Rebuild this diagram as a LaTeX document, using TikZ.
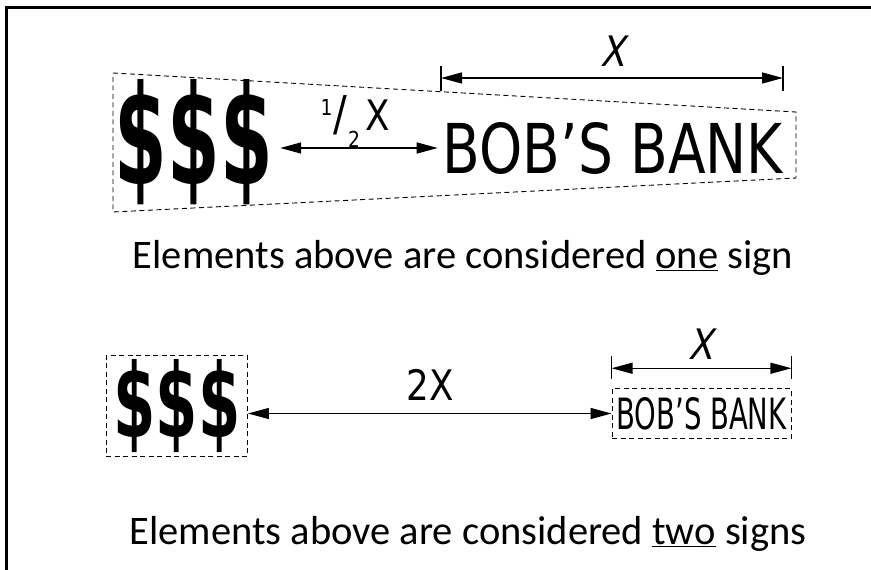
\documentclass[tikz,border=0pt]{standalone}
\usepackage{fontspec}
\setmainfont{Carlito}
\newfontfamily\dinfont[FakeStretch=0.85]{DejaVu Sans}
\newfontfamily\dinslant[FakeStretch=0.85,FakeSlant=0.2]{DejaVu Sans}
\usetikzlibrary{positioning,arrows.meta}

\begin{document}
\begin{tikzpicture}[x=1pt,y=-1pt,>={Triangle[length=21pt,width=11pt]},
   dim/.style={<->,line width=1.3pt},
   tick/.style={line width=1.3pt},
   outl/.style={draw,dash pattern=on 5pt off 3.5pt,line width=0.9pt},
   lbl/.style={font=\dinfont\fontsize{42}{42}\selectfont,inner sep=0pt},
   xlbl/.style={font=\dinslant\fontsize{42}{42}\selectfont,inner sep=0pt},
   captxt/.style={font=\fontsize{40.5}{44}\selectfont,inner sep=0pt}]
  \useasboundingbox (0,0) rectangle (871,570);
  \draw[line width=2.5pt] (6.5,570) -- (6.5,7.5) -- (871,7.5);
  % one sign
  \draw[outl] (113,73) -- (796,112) -- (796,178) -- (113,212) -- cycle;
  \node[inner sep=0pt] (dollarsA) at (194,142) {\resizebox{158pt}{105pt}{\dinfont\bfseries\$\$\$}};
  \node[inner sep=0pt] (bankA) at (613,148) {\resizebox{340pt}{51pt}{\dinfont BOB’S BANK}};
  \draw[dim,shorten <=7pt,shorten >=5pt] (dollarsA.east |- bankA.west) -- (bankA.west);
  \node[lbl,anchor=base] (half) at (355,130)
     {{\fontsize{22}{22}\selectfont\raisebox{15pt}{1}}\kern1pt{\fontsize{48}{48}\selectfont/}\kern1pt{\fontsize{22}{22}\selectfont\raisebox{-17pt}{2}}\kern5pt X};
  \coordinate (dAl) at (441,78);
  \coordinate (dAr) at (783,78);
  \draw[tick] ([yshift=12pt]dAl) -- ([yshift=-13pt]dAl);
  \draw[tick] ([yshift=12pt]dAr) -- ([yshift=-13pt]dAr);
  \draw[dim] (dAl) -- (dAr);
  \node[xlbl,anchor=base] (xA) at (613,66) {X};
  \node[captxt] (capA) at (463,258) {Elements above are considered \underline{one} sign};
  % two signs
  \node[outl,inner xsep=7pt,inner ysep=4pt] (dollarsB) at (177,406) {\resizebox{127pt}{78pt}{\dinfont\bfseries\$\$\$}};
  \node[outl,inner xsep=4.5pt,inner ysep=8.5pt] (bankB) at (701.5,413.5) {\resizebox{170pt}{32pt}{\dinfont BOB’S BANK}};
  \draw[dim] (dollarsB.east |- bankB.west) -- (bankB.west);
  \node[lbl,anchor=base] (twoX) at (430,400) {2X};
  \coordinate (dBl) at ([yshift=20pt]bankB.north west);
  \coordinate (dBr) at ([yshift=20pt]bankB.north east);
  \draw[tick] ([yshift=12pt]dBl) -- ([yshift=-11pt]dBl);
  \draw[tick] ([yshift=12pt]dBr) -- ([yshift=-11pt]dBr);
  \draw[dim] (dBl) -- (dBr);
  \node[xlbl,anchor=base] (xB) at (701,359) {X};
  \node[captxt] (capB) at (468,534) {Elements above are considered \underline{two} signs};
\end{tikzpicture}
\end{document}
